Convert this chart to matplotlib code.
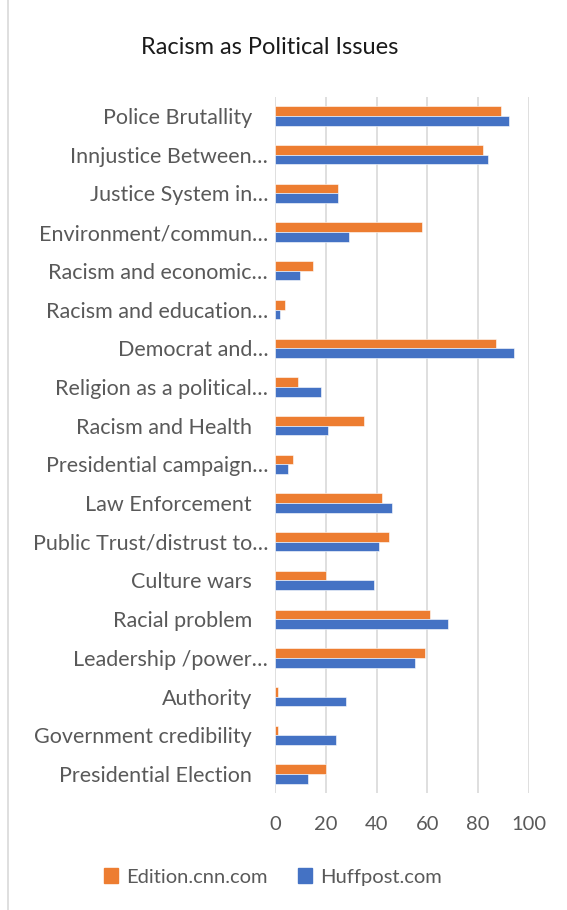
import matplotlib
matplotlib.use("Agg")
import matplotlib.pyplot as plt
import matplotlib.transforms as mtransforms
from matplotlib.lines import Line2D
from matplotlib.patches import Patch
import numpy as np

# --- data ---
categories = [
    "Police Brutallity",
    "Innjustice Between…",
    "Justice System in…",
    "Environment/commun…",
    "Racism and economic…",
    "Racism and education…",
    "Democrat and…",
    "Religion as a political…",
    "Racism and Health",
    "Presidential campaign…",
    "Law Enforcement",
    "Public Trust/distrust to…",
    "Culture wars",
    "Racial problem",
    "Leadership /power…",
    "Authority",
    "Government credibility",
    "Presidential Election",
]
cnn_vals = [89, 82, 25, 58, 15, 4, 87, 9, 35, 7, 42, 45, 20, 61, 59, 1, 1, 20]
huff_vals = [92, 84, 25, 29, 10, 2, 94, 18, 21, 5, 46, 41, 39, 68, 55, 28, 24, 13]
x_ticks = [0, 20, 40, 60, 80, 100]

title = "Racism as Political Issues"
series_names = ["Edition.cnn.com", "Huffpost.com"]
c_orange = "#ED7D31"
c_blue = "#4472C4"
txt_col = "#595959"

plt.rcParams['font.family'] = ['Lato', 'DejaVu Sans']

W, H = 567, 910
fig = plt.figure(figsize=(W / 100, H / 100), dpi=100)
ax = fig.add_axes([275 / W, 1 - 793.4 / H, (529 - 275) / W, (793.4 - 96.6) / H])

y = np.arange(len(categories))
bh = 0.25
ax.barh(y - bh / 2, cnn_vals, height=bh, color=c_orange, edgecolor="white", linewidth=0.4, zorder=3)
ax.barh(y + bh / 2, huff_vals, height=bh, color=c_blue, edgecolor="white", linewidth=0.4, zorder=3)

ax.set_ylim(len(categories) - 0.5, -0.5)
ax.set_xlim(0, 100)
ax.set_xticks(x_ticks)
ax.set_yticks(y)
ax.set_yticklabels(categories)

for s in ax.spines.values():
    s.set_visible(False)
ax.grid(axis="x", color="#d9d9d9", linewidth=1.2, zorder=0)
ax.tick_params(axis="both", length=0, labelcolor=txt_col)
ax.tick_params(axis="y", pad=5, labelsize=15.5)
ax.tick_params(axis="x", pad=16, labelsize=14.5)

# labels that were not cut short sit a bit further left
shift = mtransforms.ScaledTranslation(-16 / 100, 0, fig.dpi_scale_trans)
for lab in ax.get_yticklabels():
    if not lab.get_text().endswith("…"):
        lab.set_transform(lab.get_transform() + shift)

fig.text(270 / W, 1 - 47 / H, title, ha="center", va="center", fontsize=17, color="#1a1a1a")

handles = [Patch(color=c_orange), Patch(color=c_blue)]
fig.legend(handles, series_names, loc="center", bbox_to_anchor=(273 / W, 1 - 877 / H),
           ncol=2, frameon=False, fontsize=14.5, labelcolor=txt_col,
           handlelength=0.7, handleheight=0.7, handletextpad=0.4, columnspacing=1.5)

# chart border on the left
fig.add_artist(Line2D([8 / W, 8 / W], [0, 1], color="#d9d9d9", linewidth=1.2))

plt.savefig("out.png", dpi=100)
plt.close()
